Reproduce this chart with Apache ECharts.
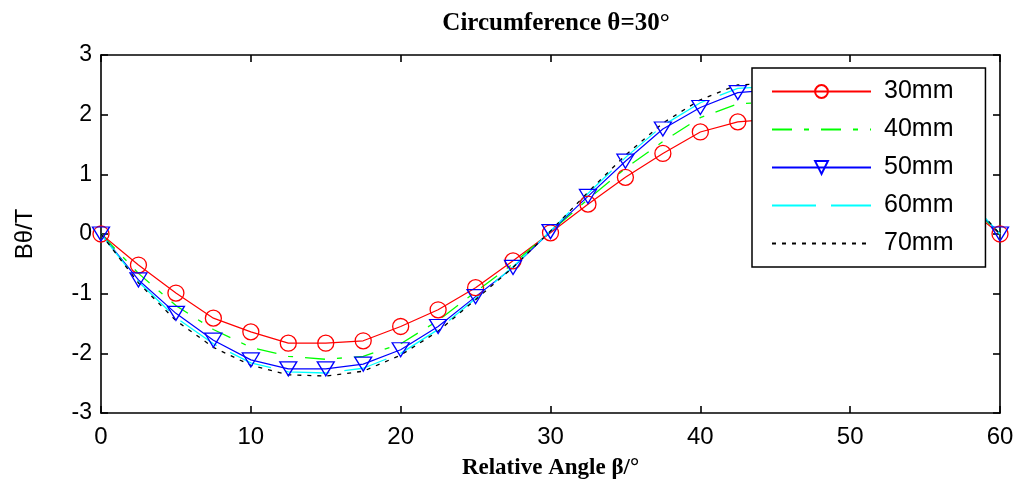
<!DOCTYPE html>
<html>
<head>
<meta charset="utf-8">
<script src="https://cdn.jsdelivr.net/npm/echarts@6/dist/echarts.min.js"></script>
<style>
  html, body { margin: 0; padding: 0; background: #fff; }
  #chart { width: 1019px; height: 488px; }
</style>
</head>
<body>
<div id="chart"></div>
<script>
// Relative angle β (degrees), sampled every 2.5°
const angles = [0, 2.5, 5, 7.5, 10, 12.5, 15, 17.5, 20, 22.5, 25, 27.5, 30,
                32.5, 35, 37.5, 40, 42.5, 45, 47.5, 50, 52.5, 55, 57.5, 60];

// Bθ (T) at each angle for the five distances
const b30mm = [0, -0.52, -0.99, -1.41, -1.64, -1.83, -1.83, -1.79, -1.55, -1.27, -0.9, -0.45, 0.02,
               0.5, 0.95, 1.35, 1.71, 1.88, 1.93, 1.85, 1.62, 1.3, 0.93, 0.5, 0];
const b40mm = [0, -0.66, -1.2, -1.6, -1.9, -2.05, -2.1, -2.05, -1.84, -1.45, -0.97, -0.5, 0.04,
               0.58, 1.1, 1.55, 1.95, 2.18, 2.22, 2.12, 1.9, 1.55, 1.12, 0.6, 0];
const b50mm = [0, -0.77, -1.33, -1.78, -2.11, -2.26, -2.26, -2.18, -1.94, -1.55, -1.05, -0.56, 0.04,
               0.63, 1.22, 1.76, 2.12, 2.37, 2.42, 2.3, 2.08, 1.68, 1.2, 0.65, 0];
const b60mm = [0, -0.8, -1.4, -1.84, -2.16, -2.31, -2.33, -2.25, -2.0, -1.6, -1.08, -0.55, 0.05,
               0.68, 1.28, 1.82, 2.2, 2.44, 2.48, 2.36, 2.12, 1.74, 1.25, 0.68, 0];
const b70mm = [0, -0.82, -1.45, -1.9, -2.2, -2.36, -2.38, -2.3, -2.03, -1.63, -1.1, -0.56, 0.05,
               0.7, 1.32, 1.86, 2.25, 2.5, 2.52, 2.4, 2.16, 1.78, 1.28, 0.7, 0];

const seriesNames = ['30mm', '40mm', '50mm', '60mm', '70mm'];

const pairs = vals => angles.map((a, i) => [a, vals[i]]);

const sansFont = "'Liberation Sans', Arial, sans-serif";
const serifFont = "'Liberation Serif', 'Times New Roman', serif";

const boxAxisLine = () => ({ show: true, onZero: false, lineStyle: { color: '#000', width: 1.6 } });
const innerTicks = () => ({ show: true, inside: true, length: 7, lineStyle: { color: '#000', width: 1.6 } });

// Legend entries: the dashed curves have no markers, so hide the legend marker for them
const hiddenMarker = { color: 'transparent', borderWidth: 0, opacity: 0 };
const legendData = [
  { name: seriesNames[0] },
  { name: seriesNames[1], itemStyle: hiddenMarker },
  { name: seriesNames[2] },
  { name: seriesNames[3], itemStyle: hiddenMarker },
  { name: seriesNames[4], itemStyle: hiddenMarker }
];

const chart = echarts.init(document.getElementById('chart'));

chart.setOption({
  animation: false,
  backgroundColor: '#fff',
  title: {
    text: 'Circumference θ=30°',
    left: 551,
    top: 6,
    textAlign: 'center',
    textStyle: { fontFamily: serifFont, fontWeight: 'bold', fontSize: 25, color: '#000' }
  },
  grid: { left: 101, right: 19, top: 55, bottom: 75 },
  legend: {
    data: legendData,
    orient: 'vertical',
    left: 752,
    top: 68,
    itemWidth: 99,
    itemHeight: 16,
    itemGap: 13,
    padding: [11, 32, 11, 19],
    backgroundColor: '#fff',
    borderColor: '#000',
    borderWidth: 1.5,
    borderRadius: 0,
    textStyle: { fontFamily: sansFont, fontSize: 25, lineHeight: 24, color: '#000', padding: [0, 0, 0, 8] }
  },
  xAxis: [{
    type: 'value',
    min: 0, max: 60, interval: 10,
    name: 'Relative Angle β/°',
    nameLocation: 'middle',
    nameGap: 44,
    nameTextStyle: { fontFamily: serifFont, fontWeight: 'bold', fontSize: 23, color: '#000' },
    axisLine: boxAxisLine(),
    axisTick: innerTicks(),
    axisLabel: { fontFamily: sansFont, fontSize: 24, color: '#000', margin: 12 },
    splitLine: { show: false }
  }, {
    type: 'value',
    position: 'top',
    min: 0, max: 60, interval: 10,
    axisLine: boxAxisLine(),
    axisTick: innerTicks(),
    axisLabel: { show: false },
    splitLine: { show: false }
  }],
  yAxis: [{
    type: 'value',
    min: -3, max: 3, interval: 1,
    name: 'Bθ/T',
    nameLocation: 'middle',
    nameGap: 64,
    nameTextStyle: { fontFamily: sansFont, fontSize: 24, color: '#000' },
    axisLine: boxAxisLine(),
    axisTick: innerTicks(),
    axisLabel: { fontFamily: sansFont, fontSize: 23, color: '#000', margin: 9 },
    splitLine: { show: false }
  }, {
    type: 'value',
    position: 'right',
    min: -3, max: 3, interval: 1,
    axisLine: boxAxisLine(),
    axisTick: innerTicks(),
    axisLabel: { show: false },
    splitLine: { show: false }
  }],
  series: [{
    name: seriesNames[0],
    type: 'line',
    data: pairs(b30mm),
    symbol: 'circle',
    symbolSize: 16,
    showSymbol: true,
    lineStyle: { color: '#ff0000', width: 1.2, type: 'solid' },
    itemStyle: { color: 'transparent', borderColor: '#ff0000', borderWidth: 1.3 },
    emphasis: { disabled: true }
  }, {
    name: seriesNames[1],
    type: 'line',
    data: pairs(b40mm),
    symbol: 'none',
    showSymbol: false,
    lineStyle: { color: '#00ff00', width: 1.3, type: [20, 12, 5, 12] },
    itemStyle: { color: '#00ff00' },
    emphasis: { disabled: true }
  }, {
    name: seriesNames[2],
    type: 'line',
    data: pairs(b50mm),
    symbol: 'triangle',
    symbolRotate: 180,
    symbolSize: [17, 14],
    showSymbol: true,
    lineStyle: { color: '#0000ff', width: 1.2, type: 'solid' },
    itemStyle: { color: 'transparent', borderColor: '#0000ff', borderWidth: 1.3 },
    emphasis: { disabled: true }
  }, {
    name: seriesNames[3],
    type: 'line',
    data: pairs(b60mm),
    symbol: 'none',
    showSymbol: false,
    lineStyle: { color: '#00ffff', width: 1.3, type: [44, 15] },
    itemStyle: { color: '#00ffff' },
    emphasis: { disabled: true }
  }, {
    name: seriesNames[4],
    type: 'line',
    data: pairs(b70mm),
    symbol: 'none',
    showSymbol: false,
    lineStyle: { color: '#000000', width: 1.3, type: [4, 6] },
    itemStyle: { color: '#000000' },
    emphasis: { disabled: true }
  }]
});
</script>
</body>
</html>
